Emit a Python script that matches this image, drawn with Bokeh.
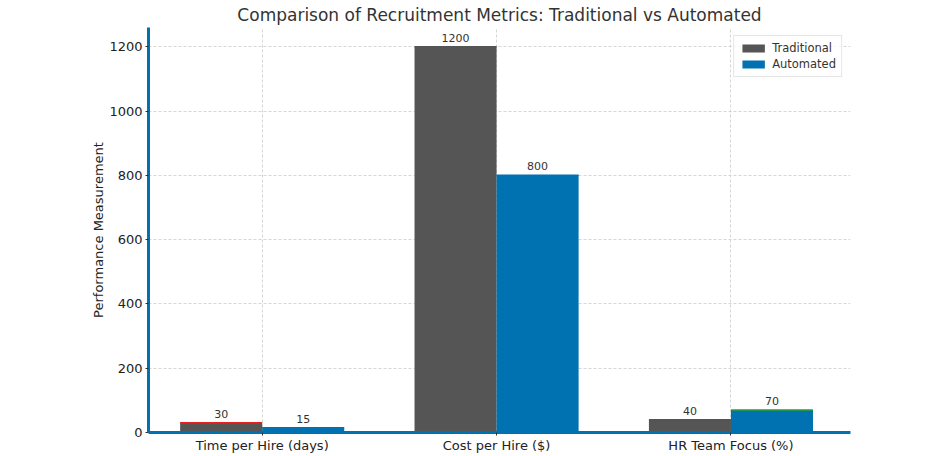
from bokeh.plotting import figure
from bokeh.models import ColumnDataSource, Legend, LegendItem, FixedTicker, Range1d
from bokeh.core.properties import value
from bokeh.embed import file_html
from bokeh.resources import INLINE

categories = ["Time per Hire (days)", "Cost per Hire ($)", "HR Team Focus (%)"]
traditional = [30, 1200, 40]
automated = [15, 800, 70]
trad_edges = ["#e8211c", "#555555", "#555555"]
auto_edges = ["#0072b2", "#0072b2", "#2ca02c"]
y_ticks = [0, 200, 400, 600, 800, 1000, 1200]

FONT = "DejaVu Sans"
W = 0.35
xs = list(range(len(categories)))

p = figure(frame_width=702, frame_height=405, output_backend="svg", toolbar_location=None,
           x_range=Range1d(-0.485, 2.51), y_range=Range1d(0, 1260),
           min_border_left=148, min_border_right=70, min_border_top=23, min_border_bottom=0)

p.title.text = "Comparison of Recruitment Metrics: Traditional vs Automated"
p.title.align = "center"
p.title.text_font = FONT
p.title.text_font_size = "17px"
p.title.text_font_style = "normal"
p.title.text_color = "#333333"
p.title.offset = 0
p.title.standoff = 5

src_t = ColumnDataSource(dict(x=[x - W / 2 for x in xs], x0=[x - W for x in xs], x1=list(xs),
                              top=traditional, lc=trad_edges, lbl=[str(v) for v in traditional]))
src_a = ColumnDataSource(dict(x=[x + W / 2 for x in xs], x0=list(xs), x1=[x + W for x in xs],
                              top=automated, lc=auto_edges, lbl=[str(v) for v in automated]))

rt = p.vbar(x="x", top="top", width=W, bottom=0, source=src_t, fill_color="#555555",
            line_color=None)
ra = p.vbar(x="x", top="top", width=W, bottom=0, source=src_a, fill_color="#0072b2",
            line_color=None)
for s in (src_t, src_a):
    p.segment(x0="x0", x1="x1", y0="top", y1="top", source=s, line_color="lc", line_width=1.5)

for s in (src_t, src_a):
    p.text(x="x", y="top", text="lbl", source=s, text_align="center", text_baseline="bottom",
           y_offset=-5, text_font=value(FONT), text_font_size="11px", text_color="#333333")

# axes
p.xaxis.ticker = FixedTicker(ticks=xs)
p.xaxis.major_label_overrides = {i: c for i, c in enumerate(categories)}
p.yaxis.ticker = FixedTicker(ticks=y_ticks)
for ax in (p.xaxis, p.yaxis):
    ax.axis_line_color = "#0072b2"
    ax.axis_line_width = 3
    ax.major_tick_line_color = "#333333"
    ax.major_tick_in = 0
    ax.major_tick_out = 3
    ax.minor_tick_line_color = None
    ax.major_label_text_font = FONT
    ax.major_label_text_font_size = "13px"
    ax.major_label_text_color = "#222222"
    ax.major_label_standoff = 3
p.xaxis.major_label_standoff = 2
p.yaxis.axis_label = "Performance Measurement"
p.yaxis.axis_label_text_font = FONT
p.yaxis.axis_label_text_font_size = "13px"
p.yaxis.axis_label_text_font_style = "normal"
p.yaxis.axis_label_text_color = "#222222"
p.yaxis.axis_label_standoff = 0

p.xgrid.ticker = FixedTicker(ticks=xs)
for g in (p.xgrid, p.ygrid):
    g.grid_line_color = "#cccccc"
    g.grid_line_dash = "3 2"
    g.grid_line_width = 0.8
p.outline_line_color = None
p.background_fill_color = "white"

legend = Legend(items=[LegendItem(label="Traditional", renderers=[rt]),
                       LegendItem(label="Automated", renderers=[ra])],
                location="top_right")
legend.label_text_font = FONT
legend.label_text_font_size = "11.5px"
legend.label_text_color = "#333333"
legend.glyph_width = 28
legend.glyph_height = 10
legend.spacing = 2
legend.padding = 5
legend.margin = 8
legend.label_height = 12
legend.label_standoff = 5
legend.border_line_color = "#cccccc"
legend.border_line_width = 1
legend.background_fill_alpha = 0.8
p.add_layout(legend)

open("out.html", "w").write(file_html(p, INLINE))
